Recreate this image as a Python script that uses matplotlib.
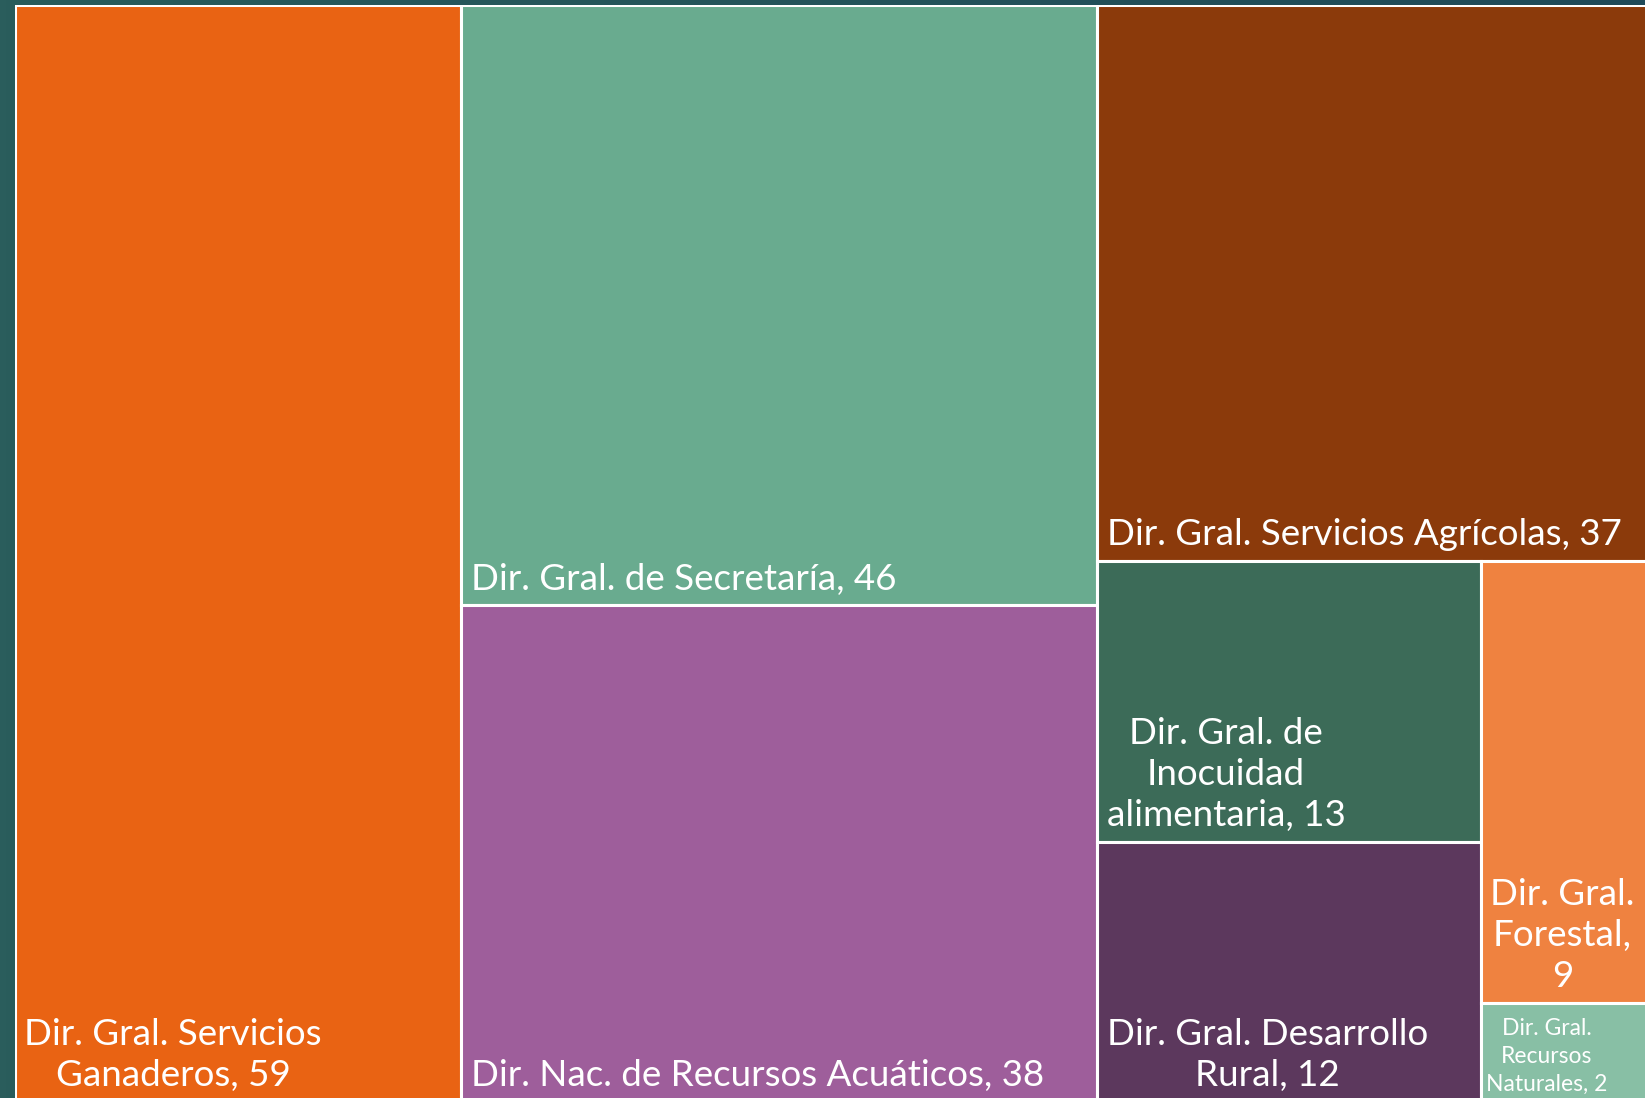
import numpy as np
import matplotlib.pyplot as plt
from matplotlib.patches import Rectangle
from matplotlib.colors import LinearSegmentedColormap

###data###
labels = ['Dir. Gral. Servicios\nGanaderos, {}',
          'Dir. Gral. de Secretaría, {}',
          'Dir. Nac. de Recursos Acuáticos, {}',
          'Dir. Gral. Servicios Agrícolas, {}',
          'Dir. Gral. de\nInocuidad\nalimentaria, {}',
          'Dir. Gral. Desarrollo\nRural, {}',
          'Dir. Gral.\nForestal,\n{}',
          'Dir. Gral.\nRecursos\nNaturales, {}']
values = [59, 46, 38, 37, 13, 12, 9, 2]
colors = ['#E96313', '#69AB8F', '#9E5E9B', '#8B3A0B',
          '#3C6B58', '#5C385D', '#EF8240', '#88BFA5']
font_sizes = [26.5, 26.5, 26.5, 26.5, 26.5, 26.5, 26.5, 16.5]

# nesting of the treemap (Excel style), alternating columns / rows
groups = [[0], [1, 2], [3, [[4, 5], [6, 7]]]]


def node_total(node):
	if isinstance(node, int):
		return values[node]
	return sum(node_total(c) for c in node)


def layout(node, x, y, w, h, horizontal, out):
	if isinstance(node, int):
		out[node] = (x, y, w, h)
		return
	tot = node_total(node)
	if len(node) == 1:
		layout(node[0], x, y, w, h, horizontal, out)
		return
	top = y + h
	for c in node:
		frac = node_total(c) / tot
		if horizontal:
			cw = w * frac
			layout(c, x, y, cw, h, not horizontal, out)
			x += cw
		else:
			ch = h * frac
			layout(c, x, top - ch, w, ch, not horizontal, out)
			top -= ch


W, H = 1635.0, 1097.0
rects = {}
layout(groups, 0, 0, W, H, True, rects)

plt.rcParams['font.family'] = ['Lato', 'DejaVu Sans']
fig = plt.figure(figsize=(16.45, 10.98), dpi=100)

###background###
bg = fig.add_axes([0, 0, 1, 1])
grad = np.linspace(0, 1, 256).reshape(1, -1)
cmap_bg = LinearSegmentedColormap.from_list('bg', ['#2A5D5C', '#1E4A59'])
bg.imshow(grad, aspect='auto', cmap=cmap_bg, extent=[0, 1, 0, 1])
bg.set_axis_off()

###treemap###
ax = fig.add_axes([14.5 / 1645, -3.5 / 1098, W / 1645, H / 1098])
ax.set_xlim(0, W)
ax.set_ylim(0, H)
ax.set_axis_off()

for i in range(len(values)):
	x, y, w, h = rects[i]
	ax.add_patch(Rectangle((x, y), w, h, facecolor=colors[i],
	                       edgecolor='white', linewidth=2.2))
	big = font_sizes[i] > 20
	ax.annotate(labels[i].format(values[i]), (x, y),
	            xytext=(7 if big else 4, 7 if big else 5),
	            textcoords='offset points', ha='left', va='bottom',
	            multialignment='center', color='white',
	            fontsize=font_sizes[i], linespacing=1.3 if big else 1.4)

plt.savefig('out.png', dpi=100)
